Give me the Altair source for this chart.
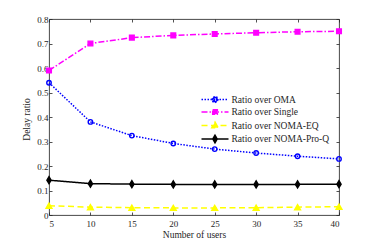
import altair as alt
import pandas as pd

# ---------------- data ----------------
users = [5, 10, 15, 20, 25, 30, 35, 40]
ratio_oma = [0.540, 0.380, 0.324, 0.292, 0.269, 0.253, 0.240, 0.229]
ratio_single = [0.590, 0.700, 0.724, 0.733, 0.739, 0.744, 0.748, 0.750]
ratio_eq = [0.038, 0.032, 0.030, 0.029, 0.029, 0.030, 0.032, 0.034]
ratio_proq = [0.142, 0.128, 0.126, 0.125, 0.125, 0.125, 0.125, 0.126]
series_names = ["Ratio over OMA", "Ratio over Single", "Ratio over NOMA-EQ", "Ratio over NOMA-Pro-Q"]
x_ticks = [5, 10, 15, 20, 25, 30, 35, 40]
y_ticks = [0, 0.1, 0.2, 0.3, 0.4, 0.5, 0.6, 0.7, 0.8]

# ---------------- styles ----------------
FONT = "Liberation Serif"
TEXT = "#262626"
line_colors = ["#0000FF", "#FF00FF", "#FFFF00", "#000000"]
marker_fills = ["transparent", "#FF00FF", "#FFFF00", "#000000"]
line_dashes = [[1.5, 1.5], [6, 2, 1.5, 2], [6, 3.5], [1, 0]]
line_widths = [1.5, 1.5, 1.5, 2.0]
marker_shapes = ["circle", "square", "triangle-up", "M0,-1L0.6,0L0,1L-0.6,0Z"]
marker_sizes = [20, 22, 34, 50]

# legend glyphs: a line segment with the marker on it (symbol scale = 4 px / unit)
seg = "M-3.375,0L3.375,0"
legend_paths = [
    seg + "M0.75,0L0.53,0.53L0,0.75L-0.53,0.53L-0.75,0L-0.53,-0.53L0,-0.75L0.53,-0.53Z"
          "M0.4,0L0.28,-0.28L0,-0.4L-0.28,-0.28L-0.4,0L-0.28,0.28L0,0.4L0.28,0.28Z",
    seg + "M-0.58,-0.58L0.58,-0.58L0.58,0.58L-0.58,0.58Z",
    seg + "M0,-0.85L0.8,0.58L-0.8,0.58Z",
    seg + "M0,-0.95L0.54,0L0,0.95L-0.54,0Z",
]
legend_fills = ["#0000FF", "#FF00FF", "#FFFF00", "#000000"]

rows = []
for name, vals in zip(series_names, [ratio_oma, ratio_single, ratio_eq, ratio_proq]):
    for u, v in zip(users, vals):
        rows.append({"users": u, "ratio": v, "series": name})
df = pd.DataFrame(rows)

xscale = alt.Scale(domain=[5, 40], nice=False, zero=False)
yscale = alt.Scale(domain=[0, 0.8], nice=False)

common_axis = dict(grid=False, domain=False, tickColor=TEXT, tickWidth=0.8,
                   labelFont=FONT, labelFontSize=9, labelColor=TEXT,
                   titleFont=FONT, titleFontSize=9.5, titleColor=TEXT,
                   titleFontWeight="normal")

x_bottom = alt.Axis(orient="bottom", values=x_ticks, tickSize={"expr": "-3"}, labelPadding=7,
                    title="Number of users", titleY=22.5, titleBaseline="alphabetic",
                    **common_axis)
y_left = alt.Axis(orient="left", values=y_ticks, tickSize={"expr": "-3"}, labelPadding=4, format=".1~f",
                  title="Delay ratio", titleX=-20, titleY=100, titleBaseline="alphabetic",
                  **common_axis)
x_top = alt.Axis(orient="top", values=x_ticks, tickSize={"expr": "-3"}, labels=False, title=None,
                 grid=False, domain=False, tickColor=TEXT, tickWidth=0.8)
y_right = alt.Axis(orient="right", values=y_ticks, tickSize={"expr": "-3"}, labels=False, title=None,
                   grid=False, domain=False, tickColor=TEXT, tickWidth=0.8)

legend = alt.Legend(
    title=None, orient="none", legendX=161, legendY=75.5, padding=0,
    labelFont=FONT, labelFontSize=9.5, labelColor=TEXT, labelOffset=11.5,
    symbolSize=64, rowPadding=0.5, symbolStrokeWidth=1.5, symbolOpacity=1,
)

base = alt.Chart(df)

# invisible layer (first, so its legend settings win) carrying the legend glyphs
legend_layer = base.mark_point(opacity=0, clip=False).encode(
    x=alt.X("users:Q", scale=xscale, axis=x_bottom),
    y=alt.Y("ratio:Q", scale=yscale, axis=y_left),
    stroke=alt.Stroke("series:N", scale=alt.Scale(domain=series_names, range=line_colors), legend=legend),
    fill=alt.Fill("series:N", scale=alt.Scale(domain=series_names, range=legend_fills), legend=legend),
    shape=alt.Shape("series:N", scale=alt.Scale(domain=series_names, range=legend_paths), legend=legend),
    strokeDash=alt.StrokeDash("series:N", scale=alt.Scale(domain=series_names, range=line_dashes), legend=legend),
)

lines = base.mark_line(clip=False).encode(
    x=alt.X("users:Q", scale=xscale, axis=x_top),
    y=alt.Y("ratio:Q", scale=yscale, axis=y_right),
    stroke=alt.Stroke("series:N", scale=alt.Scale(domain=series_names, range=line_colors)),
    strokeDash=alt.StrokeDash("series:N", scale=alt.Scale(domain=series_names, range=line_dashes)),
    strokeWidth=alt.StrokeWidth("series:N", scale=alt.Scale(domain=series_names, range=line_widths), legend=None),
)

# markers, one layer per series (constant marker style per series)
marker_layers = []
for i, name in enumerate(series_names):
    marker_layers.append(
        base.transform_filter(alt.datum.series == name).mark_point(
            shape=marker_shapes[i], fill=marker_fills[i], stroke=line_colors[i],
            size=marker_sizes[i], strokeWidth=1.4, opacity=1, clip=False,
        ).encode(
            x=alt.X("users:Q", scale=xscale, axis=None),
            y=alt.Y("ratio:Q", scale=yscale, axis=None),
        )
    )

chart = alt.layer(legend_layer, lines, *marker_layers).properties(
    width=290, height=196,
    autosize=alt.AutoSizeParams(type="none"),
    padding={"left": 41, "top": 11, "right": 27, "bottom": 24},
    background="white",
).configure_view(stroke="#333333", strokeWidth=0.9)

chart.save("out.html", embed_options={"renderer": "svg", "actions": False})
